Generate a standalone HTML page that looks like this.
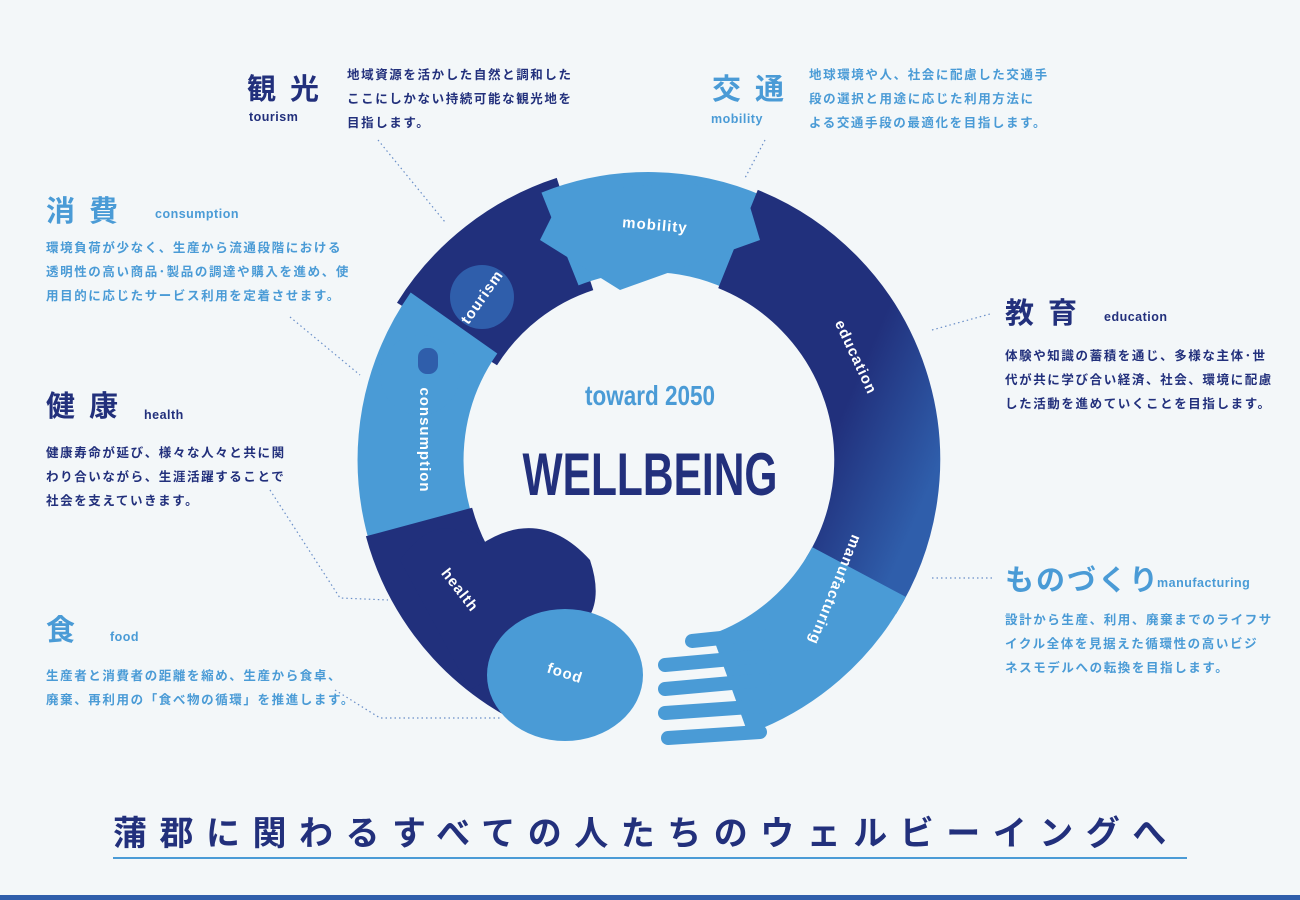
<!DOCTYPE html>
<html><head><meta charset="utf-8"><style>
html,body{margin:0;padding:0}
body{width:1300px;height:900px;background:#f3f7f9;position:relative;overflow:hidden;font-family:"Liberation Sans","Noto Sans CJK JP",sans-serif}
.t{position:absolute;font-weight:bold;letter-spacing:1px;white-space:nowrap}
.h{font-size:29px;letter-spacing:14px}
.e{font-size:12.5px;letter-spacing:0.5px}
.p{font-size:12.5px;line-height:24px;letter-spacing:1.6px}
.L{color:#4a9bd6}.D{color:#22307c}
</style></head><body>
<svg width="1300" height="900" style="position:absolute;left:0;top:0">
<defs>
<linearGradient id="g1" x1="0" y1="0" x2="1" y2="1"><stop offset="0.6" stop-color="#21307c"/><stop offset="1" stop-color="#2f5eab"/></linearGradient>
</defs>
<g stroke="#6a8fc8" stroke-width="1.2" stroke-dasharray="1.5 3" fill="none">
<path d="M378 140 L445 222"/>
<path d="M765 140 L745 178"/>
<path d="M290 317 L360 375"/>
<path d="M932 330 L990 314"/>
<path d="M270 490 L340 598 L388 600"/>
<path d="M932 578 L995 578"/>
<path d="M335 690 L380 718 L500 718"/>
</g>
<g fill="none" stroke-linecap="butt">
<path d="M447 334 A238 238 0 0 1 575 234" stroke="#21307c" stroke-width="118"/>
<path d="M560 239 A238 238 0 0 1 746 243" stroke="#4a9bd6" stroke-width="100"/>
<path d="M738 239 A238 238 0 0 1 851 586" stroke="url(#g1)" stroke-width="106"/>
<path d="M859 572 A238 238 0 0 1 730 684" stroke="#4a9bd6" stroke-width="106"/>
<path d="M433 561 A238 238 0 0 1 454 323" stroke="#4a9bd6" stroke-width="106"/>
<path d="M568 684 A238 238 0 0 1 419 522" stroke="#21307c" stroke-width="110"/>
</g>
<path d="M560 200 Q650 175 745 190 L760 240 L620 290 L540 240Z" fill="#4a9bd6"/>
<circle cx="482" cy="297" r="32" fill="#2f5eab"/>
<circle cx="420" cy="375" r="40" fill="#4a9bd6"/>
<rect x="418" y="348" width="20" height="26" rx="9" fill="#2f5eab"/>
<path d="M400 560 Q440 505 480 545 Q540 505 590 560 Q610 620 560 640 L470 690 Z" fill="#21307c"/>
<ellipse cx="565" cy="675" rx="78" ry="66" fill="#4a9bd6"/>
<g stroke="#4a9bd6" stroke-width="14" stroke-linecap="round">
<line x1="692" y1="641" x2="760" y2="634"/>
<line x1="665" y1="665" x2="765" y2="656"/>
<line x1="665" y1="689" x2="765" y2="680"/>
<line x1="665" y1="713" x2="765" y2="706"/>
<line x1="668" y1="738" x2="760" y2="732"/>
</g>
<g fill="#fff" font-family="Liberation Sans,sans-serif" font-size="15" font-weight="bold" letter-spacing="1">
<text x="655" y="230" text-anchor="middle" transform="rotate(5 655 225)">mobility</text>
<text x="482" y="302" text-anchor="middle" transform="rotate(-55 482 297)">tourism</text>
<text x="420" y="440" text-anchor="middle" transform="rotate(90 420 440)">consumption</text>
<text x="856" y="362" text-anchor="middle" transform="rotate(65 856 357)">education</text>
<text x="835" y="595" text-anchor="middle" transform="rotate(112 835 590)">manufacturing</text>
<text x="460" y="595" text-anchor="middle" transform="rotate(52 460 590)">health</text>
<text x="565" y="678" text-anchor="middle" transform="rotate(18 565 673)">food</text>
</g>
<text x="650" y="405" text-anchor="middle" fill="#4a9bd6" font-family="Liberation Sans Narrow,Liberation Sans,sans-serif" font-weight="bold" font-size="28" textLength="130" lengthAdjust="spacingAndGlyphs">toward 2050</text>
<text x="650" y="495" text-anchor="middle" fill="#22307c" font-family="Liberation Sans Narrow,Liberation Sans,sans-serif" font-weight="bold" font-size="60" textLength="255" lengthAdjust="spacingAndGlyphs">WELLBEING</text>
<line x1="113" y1="858" x2="1187" y2="858" stroke="#4a9bd6" stroke-width="2"/>
<rect x="0" y="895" width="1300" height="5" fill="#2f5eab"/>
</svg>

<div class="t h D" style="left:247px;top:66px">観光</div>
<div class="t e D" style="left:249px;top:110px">tourism</div>
<div class="t p D" style="left:347px;top:63px">地域資源を活かした自然と調和した<br>ここにしかない持続可能な観光地を<br>目指します。</div>

<div class="t h L" style="left:712px;top:66px">交通</div>
<div class="t e L" style="left:711px;top:112px">mobility</div>
<div class="t p L" style="left:809px;top:63px">地球環境や人、社会に配慮した交通手<br>段の選択と用途に応じた利用方法に<br>よる交通手段の最適化を目指します。</div>

<div class="t h L" style="left:46px;top:188px">消費</div>
<div class="t e L" style="left:155px;top:207px">consumption</div>
<div class="t p L" style="left:46px;top:236px">環境負荷が少なく、生産から流通段階における<br>透明性の高い商品･製品の調達や購入を進め、使<br>用目的に応じたサービス利用を定着させます。</div>

<div class="t h D" style="left:46px;top:383px">健康</div>
<div class="t e D" style="left:144px;top:408px">health</div>
<div class="t p D" style="left:46px;top:441px">健康寿命が延び、様々な人々と共に関<br>わり合いながら、生涯活躍することで<br>社会を支えていきます。</div>

<div class="t h L" style="left:46px;top:607px">食</div>
<div class="t e L" style="left:110px;top:630px">food</div>
<div class="t p L" style="left:46px;top:664px">生産者と消費者の距離を縮め、生産から食卓、<br>廃棄、再利用の「食べ物の循環」を推進します。</div>

<div class="t h D" style="left:1005px;top:290px">教育</div>
<div class="t e D" style="left:1104px;top:310px">education</div>
<div class="t p D" style="left:1005px;top:344px">体験や知識の蓄積を通じ、多様な主体･世<br>代が共に学び合い経済、社会、環境に配慮<br>した活動を進めていくことを目指します。</div>

<div class="t h L" style="left:1005px;top:557px;letter-spacing:2px">ものづくり</div>
<div class="t e L" style="left:1157px;top:576px">manufacturing</div>
<div class="t p L" style="left:1005px;top:608px">設計から生産、利用、廃棄までのライフサ<br>イクル全体を見据えた循環性の高いビジ<br>ネスモデルへの転換を目指します。</div>

<div class="t D" style="left:113px;top:806px;font-size:34px;letter-spacing:12.5px">蒲郡に関わるすべての人たちのウェルビーイングへ</div>
</body></html>
